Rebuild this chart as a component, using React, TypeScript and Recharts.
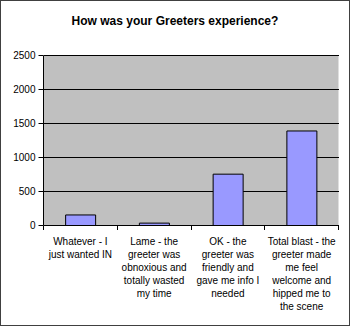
import React from 'react';
import { BarChart, Bar, XAxis, YAxis, CartesianGrid } from 'recharts';

// survey answers (line breaks as in the original chart)
const CATEGORIES = [
  'Whatever - I\njust wanted IN',
  'Lame - the\ngreeter was\nobnoxious and\ntotally wasted\nmy time',
  'OK - the\ngreeter was\nfriendly and\ngave me info I\nneeded',
  'Total blast - the\ngreeter made\nme feel\nwelcome and\nhipped me to\nthe scene',
];
const RESPONSES = [155, 35, 755, 1390];
const Y_TICKS = [0, 500, 1000, 1500, 2000, 2500];

const W = 350;
const H = 326;
const MARGIN = { top: 55.5, right: 11.5, bottom: 10.5, left: 0 };
const Y_AXIS_W = 43.5;
const PLOT_W = W - MARGIN.left - MARGIN.right - Y_AXIS_W;
const BAND = PLOT_W / CATEGORIES.length;
const FONT = '"Liberation Sans", Arial, sans-serif';

const data = CATEGORIES.map((name, i) => ({ name, value: RESPONSES[i] }));

function CategoryTick(props: any) {
  const { x, y, payload, index } = props;
  const lines = String(payload.value).split('\n');
  const half = BAND / 2;
  return (
    <g>
      <line x1={x - half} x2={x - half} y1={y} y2={y + 4} stroke="#000" shapeRendering="crispEdges" />
      {index === CATEGORIES.length - 1 && (
        <line x1={x + half} x2={x + half} y1={y} y2={y + 4} stroke="#000" shapeRendering="crispEdges" />
      )}
      <text x={x} y={y + 19} textAnchor="middle" fontSize={10} fontFamily={FONT} fill="#000">
        {lines.map((l, i) => (
          <tspan key={i} x={x} dy={i === 0 ? 0 : 13}>
            {l}
          </tspan>
        ))}
      </text>
    </g>
  );
}

export default function App() {
  return (
    <div style={{ position: 'absolute', left: 0, top: 0, width: W, height: H, background: '#fff' }}>
      <BarChart width={W} height={H} data={data} margin={MARGIN} barCategoryGap="30%">
        <CartesianGrid
          yAxisId="left"
          vertical={false}
          fill="#C0C0C0"
          fillOpacity={1}
          stroke="#000"
          horizontalValues={Y_TICKS}
          shapeRendering="crispEdges"
        />
        <XAxis
          dataKey="name"
          height={90}
          interval={0}
          tickLine={false}
          tickSize={0}
          tickMargin={0}
          axisLine={{ stroke: '#000' }}
          tick={<CategoryTick />}
        />
        <YAxis
          yAxisId="left"
          width={Y_AXIS_W}
          domain={[0, 2500]}
          ticks={Y_TICKS}
          tickSize={5}
          tickMargin={3}
          axisLine={{ stroke: '#000' }}
          tickLine={{ stroke: '#000' }}
          tick={{ fill: '#000', fontSize: 10, fontFamily: FONT }}
        />
        <YAxis
          yAxisId="right"
          orientation="right"
          width={0}
          domain={[0, 2500]}
          tick={false}
          tickLine={false}
          axisLine={{ stroke: '#808080' }}
        />
        <Bar
          yAxisId="left"
          dataKey="value"
          fill="#9999FF"
          stroke="#000"
          strokeWidth={1}
          isAnimationActive={false}
        />
      </BarChart>
      <div
        style={{
          position: 'absolute',
          top: 14,
          left: 0,
          width: W,
          textAlign: 'center',
          font: `bold 12px ${FONT}`,
          lineHeight: '14px',
          color: '#000',
        }}
      >
        How was your Greeters experience?
      </div>
      <div
        style={{
          position: 'absolute',
          left: 0,
          top: 0,
          width: W,
          height: H,
          boxSizing: 'border-box',
          border: '1px solid #404040',
          pointerEvents: 'none',
        }}
      />
    </div>
  );
}
